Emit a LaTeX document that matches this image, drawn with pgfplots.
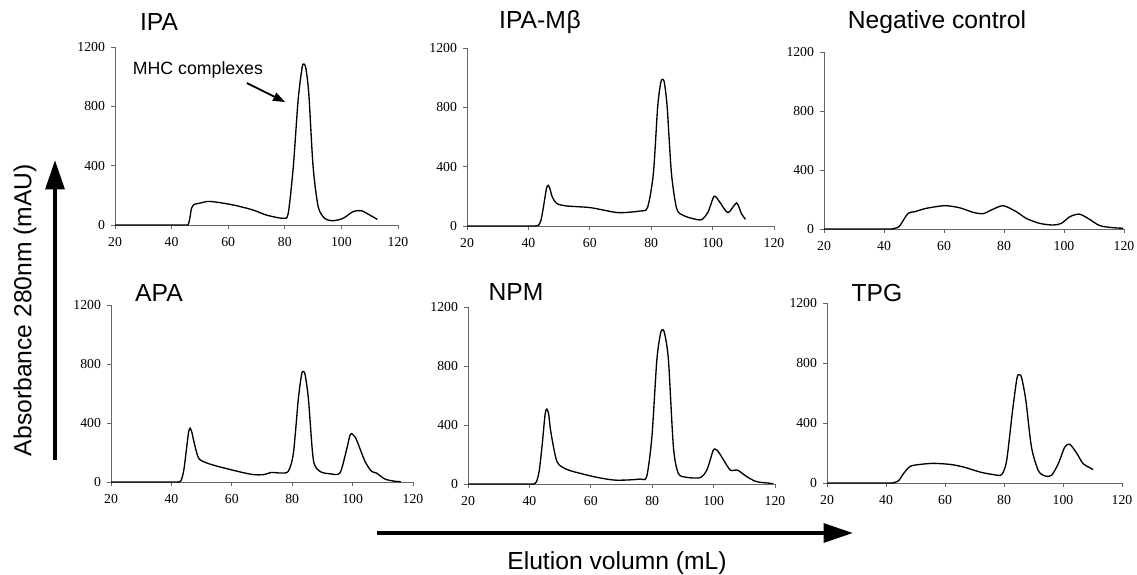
\documentclass[border=0pt]{standalone}
\usepackage{fontspec}
\setmainfont{Liberation Serif}
\setsansfont{Liberation Sans}
\usepackage{pgfplots}
\pgfplotsset{compat=1.18}
\usetikzlibrary{arrows.meta}

% one panel of the figure; sizes are given in pt (1 px of the reference = 0.75 pt)
\pgfplotsset{chrom/.style={
    scale only axis,
    axis lines=left,
    axis line style={-,gray!80!black,line width=0.6pt},
    xmin=20,xmax=120,ymin=0,ymax=1200,
    xtick={20,40,60,80,100,120},ytick={0,400,800,1200},
    tick align=outside,
    major tick length=3pt,
    tick style={gray!80!black,line width=0.6pt},
    /pgf/number format/assume math mode=true,
    /pgf/number format/1000 sep={},
    tick label style={font=\fontsize{10.3}{11}\selectfont},
    xticklabel style={yshift=-3pt},
    yticklabel style={xshift=-1pt},
    clip=false,
  },
  curve/.style={black,line width=1pt,smooth,tension=0.45}}

\begin{document}
\begin{tikzpicture}
\path[use as bounding box] (0,0) rectangle (852.75pt,-430.5pt);

% ---- IPA
\begin{axis}[chrom,at={(86.25pt,-168.75pt)},anchor=south west,width=212.25pt,height=133.5pt]
\addplot[curve] coordinates {
 (20,0) (30,0) (40,0) (45,0) (45.8,0) (46.4,40) (47,110) (47.9,138) (49.5,145)
 (53.5,159) (61.8,135) (68.8,101) (73.5,67) (79.4,45) (81.2,78) (83,393)
 (84.7,841) (86.1,1060) (86.8,1085) (87.5,1050) (88.5,880) (90,393) (91.8,123)
 (94.1,45) (97,29) (100.6,45) (104.1,90) (107.1,96) (110,67) (112.7,38)};
\node[font=\sffamily\fontsize{13.3}{15}\selectfont] at (axis cs:49.3,1045) {MHC complexes};
\draw[-{Triangle[length=9pt,width=6.5pt]},line width=1.4pt] (axis cs:66.6,957) -- (axis cs:80.1,829);
\end{axis}

% ---- IPA-Mbeta
\begin{axis}[chrom,at={(350.25pt,-169.5pt)},anchor=south west,width=230.25pt,height=133.5pt]
\addplot[curve] coordinates {
 (20,0) (30,0) (40,0) (42.3,0) (43.3,5) (44.1,40) (44.9,128) (45.9,255) (46.5,274)
 (47.1,245) (47.8,195) (49.3,151) (52.5,135) (60.1,124) (67.7,94) (70.9,90)
 (76.3,101) (78.8,125) (80.7,353) (82.1,802) (83.1,965) (83.7,989) (84.3,965)
 (85.2,802) (86.6,353) (88.3,117) (90.4,72) (93.7,49) (96.4,43) (98.5,94)
 (100.5,200) (102.3,162) (105,90) (107.8,155) (109.4,83) (110.7,45)};
\end{axis}

% ---- Negative control
\begin{axis}[chrom,at={(618pt,-171.75pt)},anchor=south west,width=225pt,height=132.75pt]
\addplot[curve] coordinates {
 (20,0) (30,0) (40,0) (42.4,0) (43.8,6) (45.2,20) (48,106) (50.2,117) (54.1,140)
 (60.2,158) (65.2,144) (69.7,113) (73,104) (75.8,129) (79.7,158) (84.1,117)
 (87.4,72) (91.9,38) (96.3,27) (99.1,38) (101.9,83) (105,101) (108,72)
 (111.9,23) (116.3,9) (119.7,5)};
\end{axis}

% ---- APA
\begin{axis}[chrom,at={(83.25pt,-361.5pt)},anchor=south west,width=226.5pt,height=132.75pt]
\addplot[curve] coordinates {
 (20,0) (30,0) (40,0) (42.2,0) (43.2,10) (44.1,80) (45.1,241) (45.7,340) (46.2,365)
 (46.8,335) (47.5,270) (49,162) (51.7,129) (56.1,102) (62.8,68) (67.2,50)
 (70.5,50) (73.2,65) (76,61) (78.7,72) (80.4,196) (82,557) (83.1,730) (83.7,749)
 (84.3,725) (85.4,557) (87,151) (89.2,72) (92.5,56) (95.8,61) (98,219) (99.1,315)
 (99.7,327) (100.4,315) (101.3,286) (104.1,140) (106.3,72) (107.9,61) (110.7,20)
 (114,5) (116,2)};
\end{axis}

% ---- NPM
\begin{axis}[chrom,at={(351pt,-363pt)},anchor=south west,width=230.25pt,height=132.75pt]
\addplot[curve] coordinates {
 (20,0) (30,0) (40,0) (41.3,0) (42.3,15) (43.2,90) (44.1,253) (45.1,470) (45.7,508)
 (46.3,470) (47,350) (49,151) (52.2,99) (56.6,72) (62,45) (67.4,27) (71.7,27)
 (76.1,34) (78.2,50) (79.9,320) (81.5,839) (82.7,1020) (83.4,1047) (84.1,1015)
 (85.3,839) (86.9,253) (88.5,72) (91.3,45) (95.6,43) (97.8,95) (99.8,225)
 (100.5,237) (101.2,228) (102.6,185) (105.4,95) (107.7,95) (110.8,50) (114,16)
 (118.4,5) (119.5,3)};
\end{axis}

% ---- TPG
\begin{axis}[chrom,at={(620.25pt,-362.25pt)},anchor=south west,width=221.25pt,height=135pt]
\addplot[curve] coordinates {
 (20,0) (30,0) (40,0) (42,0) (44.2,14) (45.9,62) (48.2,111) (51.6,124) (56.1,131)
 (61.7,124) (66.2,107) (71.9,73) (76.4,56) (79.2,56) (80.9,151) (82.9,484)
 (84.4,700) (85.2,722) (86,700) (87.4,551) (89.3,240) (91.6,84) (93.8,47)
 (96.1,51) (98.4,129) (100.6,240) (102.3,258) (104.6,200) (106.8,129)
 (109.1,102) (110.2,89)};
\end{axis}

% ---- panel titles
\begin{scope}[every node/.style={font=\sffamily\fontsize{18.5}{20}\selectfont}]
\node at (119.25pt,-16.5pt) {IPA};
\node at (405pt,-16.5pt) {IPA-M\kern0.5pt β};
\node at (702.75pt,-16.5pt) {Negative control};
\node at (119.25pt,-219.75pt) {APA};
\node at (387pt,-219pt) {NPM};
\node at (657.75pt,-219.75pt) {TPG};
\end{scope}

% ---- common axis labels with arrows
\draw[line width=3pt,-{Triangle[length=22pt,width=14pt]}] (41.25pt,-345pt) -- (41.25pt,-120pt);
\node[rotate=90,font=\sffamily\fontsize{18.5}{20}\selectfont] at (18.75pt,-232.5pt) {Absorbance 280nm (mAU)};
\draw[line width=3pt,-{Triangle[length=22pt,width=14pt]}] (282.75pt,-399.75pt) -- (639.75pt,-399.75pt);
\node[font=\sffamily\fontsize{18.5}{20}\selectfont] at (462.75pt,-422.25pt) {Elution volumn (mL)};
\end{tikzpicture}
\end{document}
